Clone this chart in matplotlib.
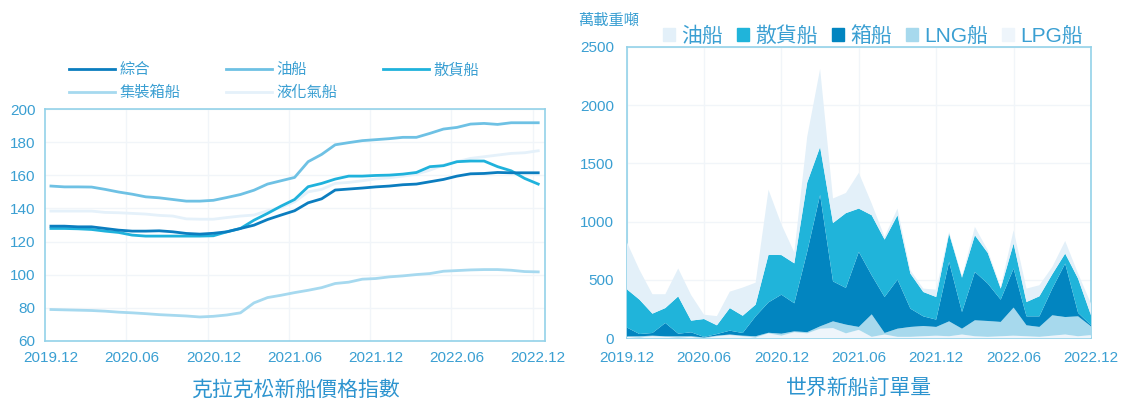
import numpy as np
import matplotlib
matplotlib.use("Agg")
import matplotlib.pyplot as plt
from matplotlib.patches import Patch

plt.rcParams['font.family'] = ['Liberation Sans', 'Noto Sans CJK TC', 'DejaVu Sans']

# ---- data ----
months = ['2019.12', '2020.06', '2020.12', '2021.06', '2021.12', '2022.06', '2022.12']

# 克拉克松新船價格指數 (monthly, 2019.12 - 2022.12)
idx_total = [129.3, 129.3, 128.9, 128.9, 127.9, 126.9, 126.3, 126.3, 126.5, 125.9, 124.9, 124.5, 125.0,
             125.9, 127.9, 129.9, 133.3, 136.0, 138.6, 143.4, 145.8, 151.1, 151.7, 152.3, 153.0,
             153.5, 154.3, 154.7, 156.1, 157.5, 159.5, 160.9, 161.1, 161.7, 161.5, 161.5, 161.5]
idx_tanker = [153.5, 153.0, 153.0, 152.9, 151.5, 149.9, 148.6, 147.0, 146.4, 145.4, 144.4, 144.4, 144.9,
              146.6, 148.4, 151.0, 154.7, 156.7, 158.7, 168.2, 172.6, 178.4, 179.7, 180.9, 181.5,
              182.1, 182.9, 182.9, 185.3, 187.9, 188.9, 190.9, 191.3, 190.7, 191.7, 191.7, 191.7]
idx_bulk = [127.9, 127.9, 127.7, 127.3, 126.3, 125.5, 123.9, 123.3, 123.3, 123.3, 123.3, 123.3, 123.5,
            125.9, 127.9, 132.9, 137.0, 141.4, 145.4, 153.1, 155.1, 157.7, 159.5, 159.5, 159.9,
            160.1, 160.7, 161.7, 165.2, 165.8, 168.2, 168.6, 168.6, 165.2, 162.7, 158.1, 154.7]
idx_box = [79.0, 78.8, 78.6, 78.4, 78.0, 77.4, 77.0, 76.5, 75.9, 75.5, 75.1, 74.5, 74.9,
           75.7, 77.0, 83.0, 86.2, 87.6, 89.2, 90.6, 92.2, 94.7, 95.5, 97.3, 97.7,
           98.7, 99.3, 100.1, 100.7, 102.1, 102.5, 102.9, 103.1, 103.1, 102.7, 101.9, 101.7]
idx_gas = [138.4, 138.4, 138.4, 138.4, 137.6, 137.4, 137.0, 136.6, 135.8, 135.4, 133.7, 133.5, 133.5,
           134.5, 135.4, 136.0, 138.6, 140.6, 144.0, 150.0, 151.5, 155.1, 155.7, 156.7, 157.8,
           158.5, 159.5, 160.7, 163.1, 166.2, 168.2, 170.2, 171.2, 172.2, 173.2, 173.6, 174.8]

# 世界新船訂單量 (萬載重噸)
ord_tanker = [407, 255, 167, 119, 240, 220, 37, 79, 141, 242, 189, 559, 263, 94, 393, 670, 211, 173,
              307, 100, 23, 57, 28, 29, 63, 15, 6, 72, 23, 14, 114, 115, 95, 63, 108, 43, 100]
ord_bulk = [329, 295, 166, 128, 320, 100, 154, 75, 194, 148, 100, 408, 340, 343, 594, 412, 501, 642,
            372, 516, 493, 553, 301, 209, 194, 243, 295, 315, 263, 95, 215, 123, 172, 123, 86, 294, 85]
ord_box = [77, 19, 23, 114, 22, 34, 4, 14, 33, 23, 171, 261, 335, 241, 691, 1128, 343, 315,
           644, 335, 309, 421, 157, 83, 63, 510, 143, 415, 321, 191, 335, 77, 91, 229, 459, 30, 10]
ord_lng = [4, 10, 5, 5, 10, 5, 5, 5, 5, 5, 10, 5, 17, 7, 10, 20, 58, 75,
           25, 193, 13, 70, 85, 88, 75, 128, 50, 137, 136, 123, 241, 94, 85, 175, 150, 171, 75]
ord_lpg = [10, 5, 15, 10, 5, 10, 0, 15, 25, 15, 5, 40, 20, 50, 40, 80, 85, 40,
           70, 10, 30, 10, 10, 15, 20, 15, 30, 15, 10, 15, 20, 15, 10, 20, 30, 15, 25]

txt = '#3a9fd2'
spine_c = '#93d2e9'
grid_c = '#f1f5f9'

fig = plt.figure(figsize=(11.23, 4.0), dpi=100)

# ---------- left chart ----------
ax1 = fig.add_axes([0.0403, 0.1475, 0.445, 0.58])
x = np.arange(len(idx_total))
l_total, = ax1.plot(x, idx_total, color='#0b7dbf', lw=2.0, zorder=5)
l_tank, = ax1.plot(x, idx_tanker, color='#6ec1e4', lw=2.0, zorder=4)
l_bulk, = ax1.plot(x, idx_bulk, color='#1fb2dc', lw=2.0, zorder=4)
l_box, = ax1.plot(x, idx_box, color='#a6d9ef', lw=2.0, zorder=3)
l_gas, = ax1.plot(x, idx_gas, color='#e5f1fa', lw=2.0, zorder=3)
ax1.set_xlim(-0.42, 36.5)
ax1.set_ylim(60, 200)
ax1.set_yticks(range(60, 201, 20))
ax1.set_xticks(range(0, 37, 6))
ax1.set_xticklabels(months)
ax1.set_xticks([m - 0.42 for m in range(6, 37, 6)], minor=True)
ax1.grid(True, which='minor', axis='x', color=grid_c, lw=1.0)
ax1.grid(True, which='major', axis='y', color=grid_c, lw=1.0)
ax1.set_axisbelow(True)
ax1.legend([l_total, l_box, l_tank, l_gas, l_bulk],
           ['綜合', '集裝箱船', '油船', '液化氣船', '散貨船'],
           ncol=3, loc='lower left', bbox_to_anchor=(0.032, 1.005), frameon=False,
           fontsize=11, labelcolor=txt, handlelength=3.0, handletextpad=0.3,
           columnspacing=3.0, labelspacing=0.55, borderaxespad=0.1)
ax1.text(0.5, -0.21, '克拉克松新船價格指數', transform=ax1.transAxes, ha='center', va='center',
         fontsize=15, color='#2d94cf')

# ---------- right chart ----------
ax2 = fig.add_axes([0.558, 0.155, 0.4135, 0.728])
x2 = np.arange(len(ord_tanker))
ax2.stackplot(x2, ord_lpg, ord_lng, ord_box, ord_bulk, ord_tanker,
              colors=['#eef5fb', '#a7d9ed', '#0285c0', '#20b4da', '#e3f0f9'], lw=0, zorder=3)
ax2.set_xlim(0, 36)
ax2.set_ylim(0, 2500)
ax2.set_yticks(range(0, 2501, 500))
ax2.set_xticks(range(0, 37, 6))
ax2.set_xticklabels(months)
ax2.grid(True, color=grid_c, lw=1.0)
ax2.set_axisbelow(True)
handles = [Patch(color=c) for c in ['#e3f0f9', '#20b4da', '#0285c0', '#a7d9ed', '#eef5fb']]
ax2.legend(handles, ['油船', '散貨船', '箱船', 'LNG船', 'LPG船'], ncol=5, loc='lower left',
           bbox_to_anchor=(0.06, 0.975), frameon=False, fontsize=15, labelcolor=txt,
           handlelength=0.6, handleheight=0.6, handletextpad=0.3, columnspacing=0.65,
           borderaxespad=0.0)
ax2.text(-0.105, 1.09, '萬載重噸', transform=ax2.transAxes, ha='left', va='center',
         fontsize=11, color=txt)
ax2.text(0.5, -0.17, '世界新船訂單量', transform=ax2.transAxes, ha='center', va='center',
         fontsize=15, color='#2d94cf')

for ax in (ax1, ax2):
    for s in ax.spines.values():
        s.set_color(spine_c)
        s.set_linewidth(1.2)
    ax.tick_params(which='both', length=0, colors=txt, labelsize=11)
ax1.tick_params(axis='y', pad=7)
ax1.tick_params(axis='x', pad=7)
ax2.tick_params(axis='y', pad=9)
ax2.tick_params(axis='x', pad=9)

fig.savefig('out.png', dpi=100)
